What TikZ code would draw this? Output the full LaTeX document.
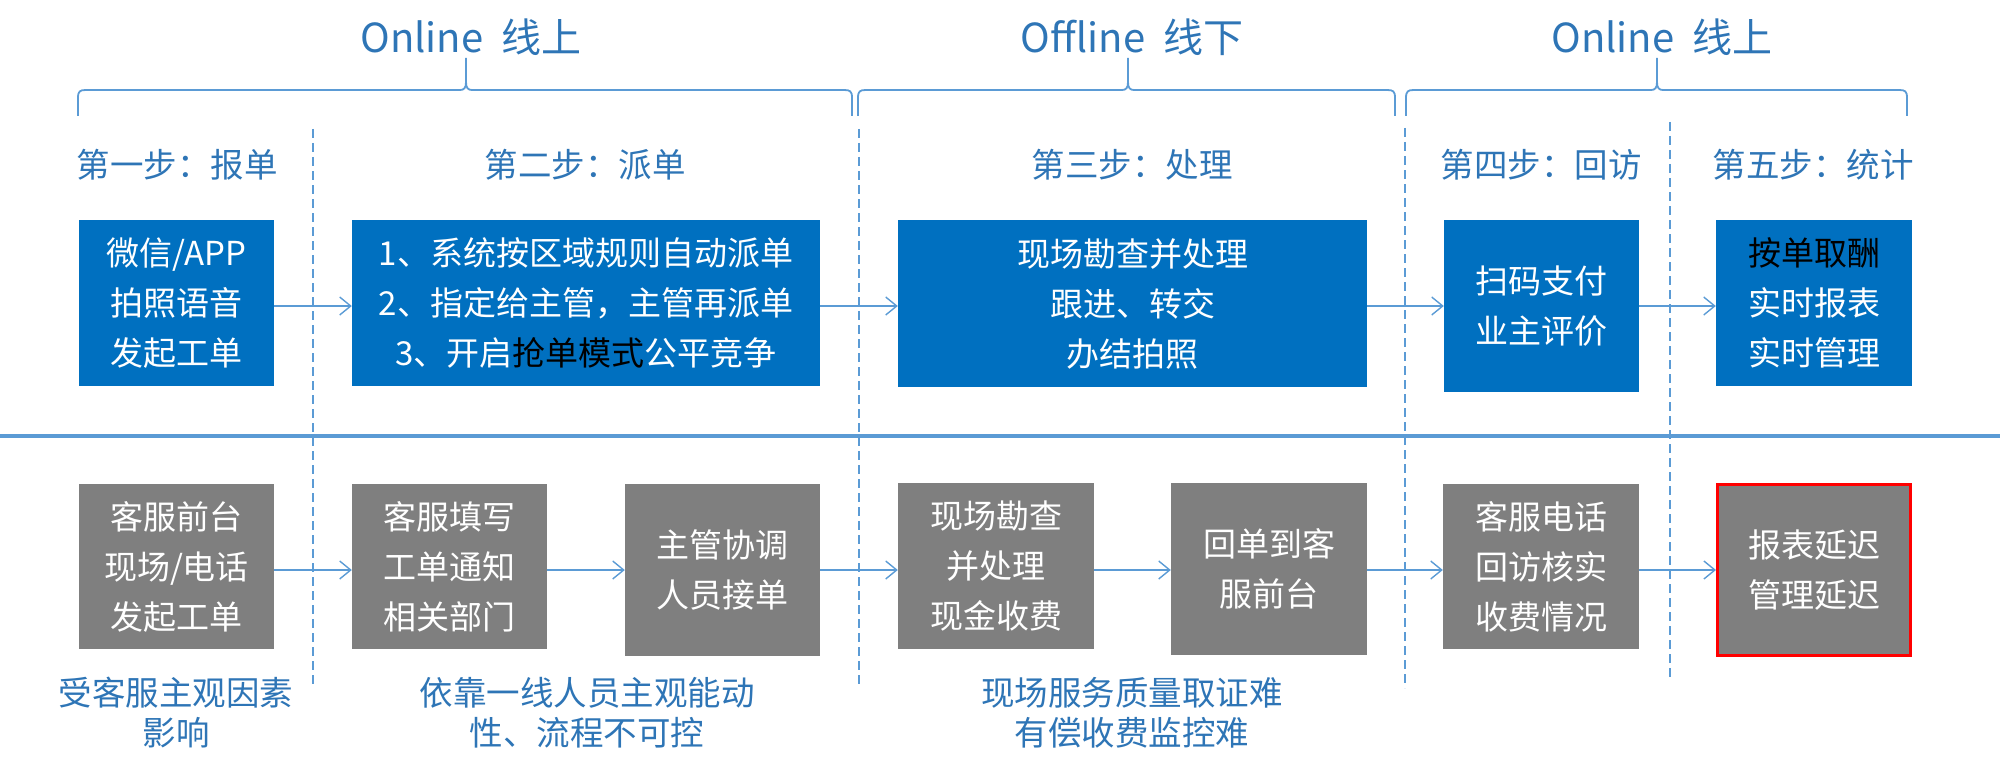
\documentclass[tikz,border=0pt]{standalone}
\usepackage{fontspec}
\setmainfont{Noto Sans CJK SC}
\usetikzlibrary{arrows.meta}
\definecolor{tblue}{RGB}{46,117,182}
\definecolor{bblue}{RGB}{0,112,192}
\definecolor{lblue}{RGB}{91,155,213}
\definecolor{gbox}{RGB}{127,127,127}
\begin{document}
\begin{tikzpicture}[x=1pt,y=-1pt,
  boxbase/.style={inner sep=0pt, align=center, text=white, font=\fontsize{33}{50}\selectfont},
  bluebox/.style={boxbase, fill=bblue},
  greybox/.style={boxbase, fill=gbox},
  redbox/.style={boxbase, fill=gbox, draw=red, line width=3pt},
  title/.style={text=tblue, font=\fontsize{40}{46}\selectfont},
  steplabel/.style={text=tblue, font=\fontsize{33.5}{40}\selectfont},
  note/.style={text=tblue, align=center, font=\fontsize{33.5}{40}\selectfont},
  bracestyle/.style={draw=lblue, line width=1.8pt},
  divider/.style={draw=lblue, line width=2pt, dash pattern=on 9pt off 5pt},
  flow/.style={draw=lblue, line width=1.4pt, -{Straight Barb[length=11pt,width=18pt,line width=1.4pt]}}
]
\useasboundingbox (0,0) rectangle (2000,773);

% titles
\node[title] (t1) at (471,37) {Online\ \ 线上};
\node[title] (t2) at (1132,37) {Offline\ \ 线下};
\node[title] (t3) at (1662,37) {Online\ \ 线上};

% braces
\draw[bracestyle] (78,116) -- (78,98) .. controls (78,91) and (80,90) .. (86,90) -- (460,90) .. controls (464,90) and (466,88) .. (466,82) -- (466,58);
\draw[bracestyle] (466,82) .. controls (466,88) and (468,90) .. (472,90) -- (844,90) .. controls (850,90) and (852,91) .. (852,98) -- (852,116);
\draw[bracestyle] (858,116) -- (858,98) .. controls (858,91) and (860,90) .. (866,90) -- (1122,90) .. controls (1126,90) and (1128,88) .. (1128,82) -- (1128,58);
\draw[bracestyle] (1128,82) .. controls (1128,88) and (1130,90) .. (1134,90) -- (1387,90) .. controls (1393,90) and (1395,91) .. (1395,98) -- (1395,116);
\draw[bracestyle] (1406,116) -- (1406,98) .. controls (1406,91) and (1408,90) .. (1414,90) -- (1651,90) .. controls (1655,90) and (1657,88) .. (1657,82) -- (1657,58);
\draw[bracestyle] (1657,82) .. controls (1657,88) and (1659,90) .. (1663,90) -- (1899,90) .. controls (1905,90) and (1907,91) .. (1907,98) -- (1907,116);

% dividers
\draw[divider] (313,129) -- (313,687);
\draw[divider] (859,129) -- (859,687);
\draw[divider] (1405,128) -- (1405,688);
\draw[divider] (1670,122) -- (1670,680);
\draw[draw=lblue, line width=3.5pt] (0,436) -- (2000,436);

% step labels
\node[steplabel] (s1) at (177,165) {第一步：报单};
\node[steplabel] (s2) at (585,165) {第二步：派单};
\node[steplabel] (s3) at (1132,165) {第三步：处理};
\node[steplabel] (s4) at (1541,165) {第四步：回访};
\node[steplabel] (s5) at (1813,165) {第五步：统计};

% top boxes
\node[bluebox, minimum width=195pt, minimum height=166pt] (b1) at (176.5,303) {微信/APP\\拍照语音\\发起工单};
\node[bluebox, minimum width=468pt, minimum height=166pt] (b2) at (586,303) {1、系统按区域规则自动派单\\2、指定给主管，主管再派单\\3、开启\textcolor{black}{抢单模式}公平竞争};
\node[bluebox, minimum width=469pt, minimum height=167pt] (b3) at (1132.5,303.5) {现场勘查并处理\\跟进、转交\\办结拍照};
\node[bluebox, minimum width=195pt, minimum height=172pt] (b4) at (1541.5,306) {扫码支付\\业主评价};
\node[bluebox, minimum width=196pt, minimum height=166pt] (b5) at (1814,303) {\textcolor{black}{按单取酬}\\实时报表\\实时管理};

% bottom boxes
\node[greybox, minimum width=195pt, minimum height=165pt] (g1) at (176.5,566.5) {客服前台\\现场/电话\\发起工单};
\node[greybox, minimum width=195pt, minimum height=165pt] (g2) at (449.5,566.5) {客服填写\\工单通知\\相关部门};
\node[greybox, minimum width=195pt, minimum height=172pt] (g3) at (722.5,570) {主管协调\\人员接单};
\node[greybox, minimum width=196pt, minimum height=166pt] (g4) at (996,566) {现场勘查\\并处理\\现金收费};
\node[greybox, minimum width=196pt, minimum height=172pt] (g5) at (1269,569) {回单到客\\服前台};
\node[greybox, minimum width=196pt, minimum height=165pt] (g6) at (1541,566.5) {客服电话\\回访核实\\收费情况};
\node[redbox, minimum width=193pt, minimum height=171pt] (g7) at (1814,570) {报表延迟\\管理延迟};

% arrows top
\coordinate (ta) at (0,306);
\draw[flow] (b1.east |- ta) -- (b2.west |- ta);
\draw[flow] (b2.east |- ta) -- (b3.west |- ta);
\draw[flow] (b3.east |- ta) -- (b4.west |- ta);
\draw[flow] (b4.east |- ta) -- (b5.west |- ta);

% arrows bottom
\coordinate (ba) at (0,570);
\draw[flow] (g1.east |- ba) -- (g2.west |- ba);
\draw[flow] (g2.east |- ba) -- (g3.west |- ba);
\draw[flow] (g3.east |- ba) -- (g4.west |- ba);
\draw[flow] (g4.east |- ba) -- (g5.west |- ba);
\draw[flow] (g5.east |- ba) -- (g6.west |- ba);
\draw[flow] (g6.east |- ba) -- (g7.west |- ba);

% notes
\node[note] (n1) at (176,713) {受客服主观因素\\影响};
\node[note] (n2) at (587,713) {依靠一线人员主观能动\\性、流程不可控};
\node[note] (n3) at (1132,713) {现场服务质量取证难\\有偿收费监控难};
\end{tikzpicture}
\end{document}
